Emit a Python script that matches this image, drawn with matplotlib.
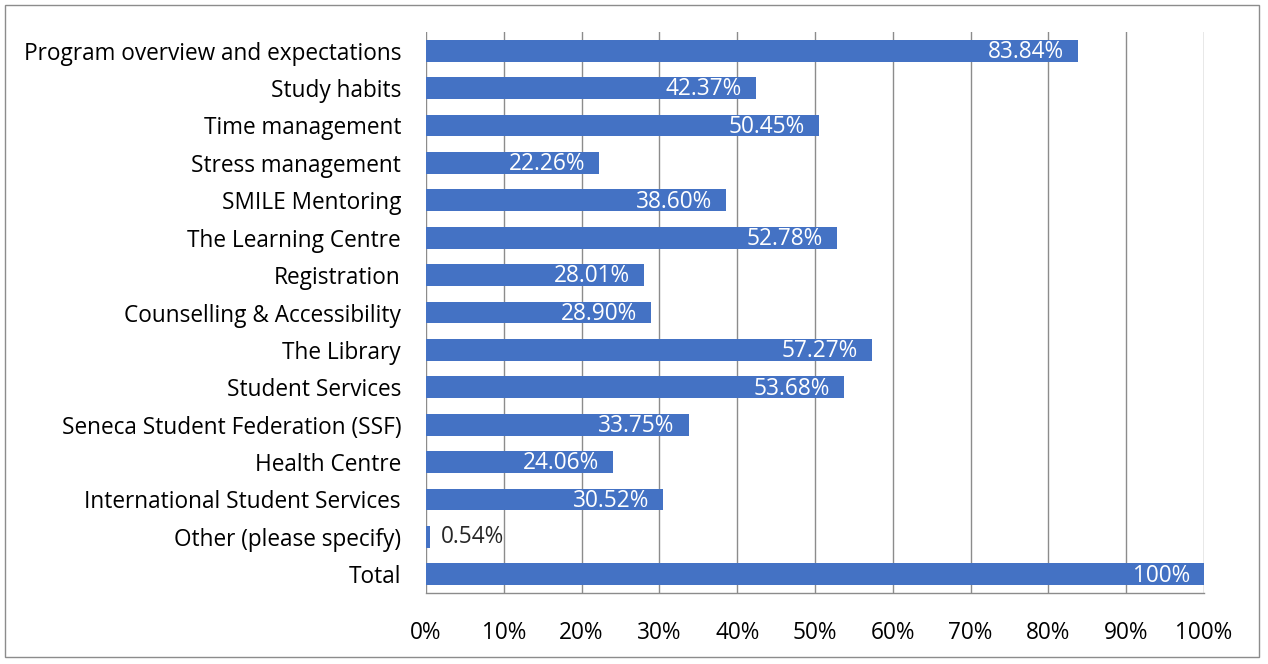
import matplotlib
matplotlib.use("Agg")
import matplotlib.pyplot as plt
from matplotlib.patches import Rectangle

categories = ["Program overview and expectations", "Study habits", "Time management",
              "Stress management", "SMILE Mentoring", "The Learning Centre", "Registration",
              "Counselling & Accessibility", "The Library", "Student Services",
              "Seneca Student Federation (SSF)", "Health Centre",
              "International Student Services", "Other (please specify)", "Total"]
values = [83.84, 42.37, 50.45, 22.26, 38.60, 52.78, 28.01, 28.90, 57.27, 53.68,
          33.75, 24.06, 30.52, 0.54, 100.0]
labels = ["83.84%", "42.37%", "50.45%", "22.26%", "38.60%", "52.78%", "28.01%", "28.90%",
          "57.27%", "53.68%", "33.75%", "24.06%", "30.52%", "0.54%", "100%"]
xticks = [0, 10, 20, 30, 40, 50, 60, 70, 80, 90, 100]
xticklabels = ["0%", "10%", "20%", "30%", "40%", "50%", "60%", "70%", "80%", "90%", "100%"]

plt.rcParams['font.family'] = ['Open Sans', 'DejaVu Sans']
W, H = 1268, 664
fig = plt.figure(figsize=(W / 100, H / 100), dpi=100)
ax = fig.add_axes([426 / W, 1 - 593 / H, (1204 - 426) / W, (593 - 32) / H])

FS = 16.3
bar_color = "#4472C4"
grid_color = "#8C8C8C"
y = list(range(len(categories)))
ax.barh(y, values, height=0.58, color=bar_color, zorder=3)
ax.set_ylim(len(categories) - 0.5, -0.5)
ax.set_xlim(0, 100)
ax.set_yticks(y)
ax.set_yticklabels(categories, fontsize=FS, color="#000000")
ax.set_xticks(xticks)
ax.set_xticklabels(xticklabels, fontsize=FS, color="#000000")
ax.tick_params(axis='both', length=0)
ax.tick_params(axis='x', pad=20)
ax.tick_params(axis='y', pad=18)
ax.xaxis.grid(True, color=grid_color, linewidth=1.0, zorder=0)
for s in ["top", "right", "left"]:
    ax.spines[s].set_visible(False)
ax.spines["bottom"].set_color(grid_color)
ax.spines["bottom"].set_linewidth(1.0)

for yi, v, lab in zip(y, values, labels):
    if v < 5:
        ax.annotate(lab, (v, yi), xytext=(8, 0), textcoords="offset points",
                    ha="left", va="center", fontsize=FS, color="#262626", zorder=4)
    else:
        ax.annotate(lab, (v, yi), xytext=(-10, -1), textcoords="offset points",
                    ha="right", va="center", fontsize=FS, color="white", zorder=4)

fig.patches.append(Rectangle((5 / W, 1 - 657 / H), (1259 - 5) / W, (657 - 5) / H,
                             transform=fig.transFigure, fill=False,
                             edgecolor="#8C8C8C", linewidth=1.0))
fig.savefig("out.png", dpi=100)
